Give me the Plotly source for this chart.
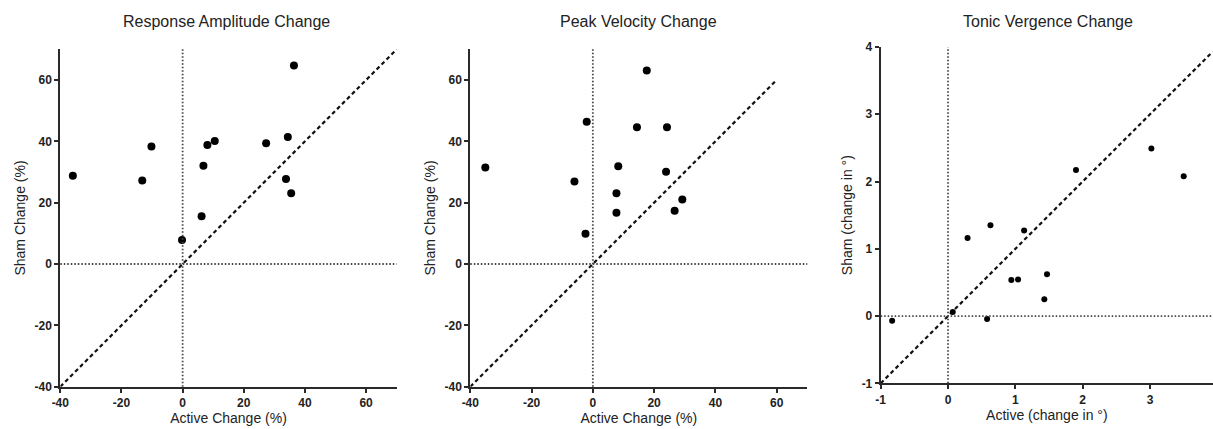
import plotly.graph_objects as go

W, H = 1213, 429

# ---- data ----
amp_active = [-35.9, -13.2, -10.2, -0.2, 6.2, 6.8, 8.1, 10.5, 27.3, 33.8, 34.4, 35.5, 36.4]
amp_sham   = [28.8, 27.2, 38.3, 7.8, 15.6, 32.0, 38.8, 40.1, 39.4, 27.7, 41.4, 23.1, 64.7]

vel_active = [-35.1, -6.0, -2.0, -2.4, 7.7, 7.7, 8.3, 14.4, 17.6, 24.2, 23.9, 26.7, 29.2]
vel_sham   = [31.5, 26.9, 46.4, 9.9, 16.7, 23.1, 31.9, 44.6, 63.1, 44.6, 30.1, 17.4, 21.0]

ton_active = [-0.83, 0.07, 0.58, 0.29, 0.63, 1.13, 0.94, 1.04, 1.47, 1.43, 1.90, 3.02, 3.50]
ton_sham   = [-0.07, 0.06, -0.045, 1.16, 1.35, 1.27, 0.535, 0.545, 0.62, 0.25, 2.17, 2.49, 2.08]

titles = ["Response Amplitude Change", "Peak Velocity Change", "Tonic Vergence Change"]
x_titles = ["Active Change (%)", "Active Change (%)", "Active (change in °)"]
y_titles = ["Sham Change (%)", "Sham Change (%)", "Sham (change in °)"]

# identity line extents
unity_1 = [-40, 70]
unity_2 = [-40, 60]
unity_3 = [-1, 3.93]

x_ranges = [[-40, 70], [-40, 70], [-1, 3.935]]
y_ranges = [[-40, 70], [-40, 70], [-1, 4]]
pct_ticks = [-40, -20, 0, 20, 40, 60]
pct_labels = ["-40", "-20", "0", "20", "40", "60"]
deg_x_ticks = [-1, 0, 1, 2, 3]
deg_x_labels = ["-1", "0", "1", "2", "3"]
deg_y_ticks = [-1, 0, 1, 2, 3, 4]
deg_y_labels = ["-1", "0", "1", "2", "3", "4"]

x_ticks = [(pct_ticks, pct_labels), (pct_ticks, pct_labels), (deg_x_ticks, deg_x_labels)]
y_ticks = [(pct_ticks, pct_labels), (pct_ticks, pct_labels), (deg_y_ticks, deg_y_labels)]

# ---- layout geometry (pixels) ----
x_dom_px = [(60.3, 396.7), (470.3, 807.3), (880.7, 1213)]
y_dom_px = [(49.3, 386.7), (49.3, 386.7), (47.0, 383.3)]
title_cx = [227, 638, 1048]

fig = go.Figure()

series = [(amp_active, amp_sham, unity_1, 8),
          (vel_active, vel_sham, unity_2, 8),
          (ton_active, ton_sham, unity_3, 6)]

axis_col = "#2a2a2a"
fam = "Liberation Sans, Arial, sans-serif"
tick_font = dict(family=fam, size=12, color="#222222", weight="bold")
lab_font = dict(family=fam, size=14, color="#222222")

for i, (xa, ya, un, ms) in enumerate(series):
    sfx = "" if i == 0 else str(i + 1)
    xr, yr = f"x{sfx}", f"y{sfx}"
    # dotted zero lines
    fig.add_shape(type="line", xref=xr, yref=f"{yr} domain", x0=0, x1=0, y0=0, y1=1,
                  line=dict(color="#444444", width=1.8, dash="1.5px,2px"))
    fig.add_shape(type="line", xref=f"{xr} domain", yref=yr, x0=0, x1=1, y0=0, y1=0,
                  line=dict(color="#444444", width=1.8, dash="1.5px,2px"))
    # identity line
    fig.add_trace(go.Scatter(x=un, y=un, mode="lines", xaxis=xr, yaxis=yr,
                             line=dict(color="#111111", width=2.2, dash="4px,3px"),
                             showlegend=False, hoverinfo="skip", cliponaxis=False))
    fig.add_trace(go.Scatter(x=xa, y=ya, mode="markers", xaxis=xr, yaxis=yr,
                             marker=dict(color="black", size=ms),
                             showlegend=False, cliponaxis=False))
    xd = x_dom_px[i]
    yd = y_dom_px[i]
    common = dict(showline=True, linecolor=axis_col, linewidth=2, ticks="outside",
                  ticklen=4, tickwidth=1.5, tickcolor=axis_col, showgrid=False,
                  zeroline=False, tickfont=tick_font, mirror=False, automargin=False)
    fig.layout[f"xaxis{sfx}"] = dict(
        domain=[xd[0] / W, min(xd[1] / W, 1.0)], range=x_ranges[i],
        tickvals=x_ticks[i][0], ticktext=x_ticks[i][1], anchor=yr,
        title=dict(text=x_titles[i], font=lab_font, standoff=2), **common)
    fig.layout[f"yaxis{sfx}"] = dict(
        domain=[1 - yd[1] / H, 1 - yd[0] / H], range=y_ranges[i],
        tickvals=y_ticks[i][0], ticktext=y_ticks[i][1], anchor=xr,
        title=dict(text=y_titles[i], font=lab_font, standoff=6), **common)
    fig.add_annotation(text=titles[i], xref="paper", yref="paper",
                       x=title_cx[i] / W, y=1 - 21 / H,
                       showarrow=False, yanchor="middle", xanchor="center",
                       font=dict(family=fam, size=16, color="#222222"))

fig.update_layout(width=W, height=H, margin=dict(l=0, r=0, t=0, b=0),
                  plot_bgcolor="white", paper_bgcolor="white")

fig.write_html("out.html")
